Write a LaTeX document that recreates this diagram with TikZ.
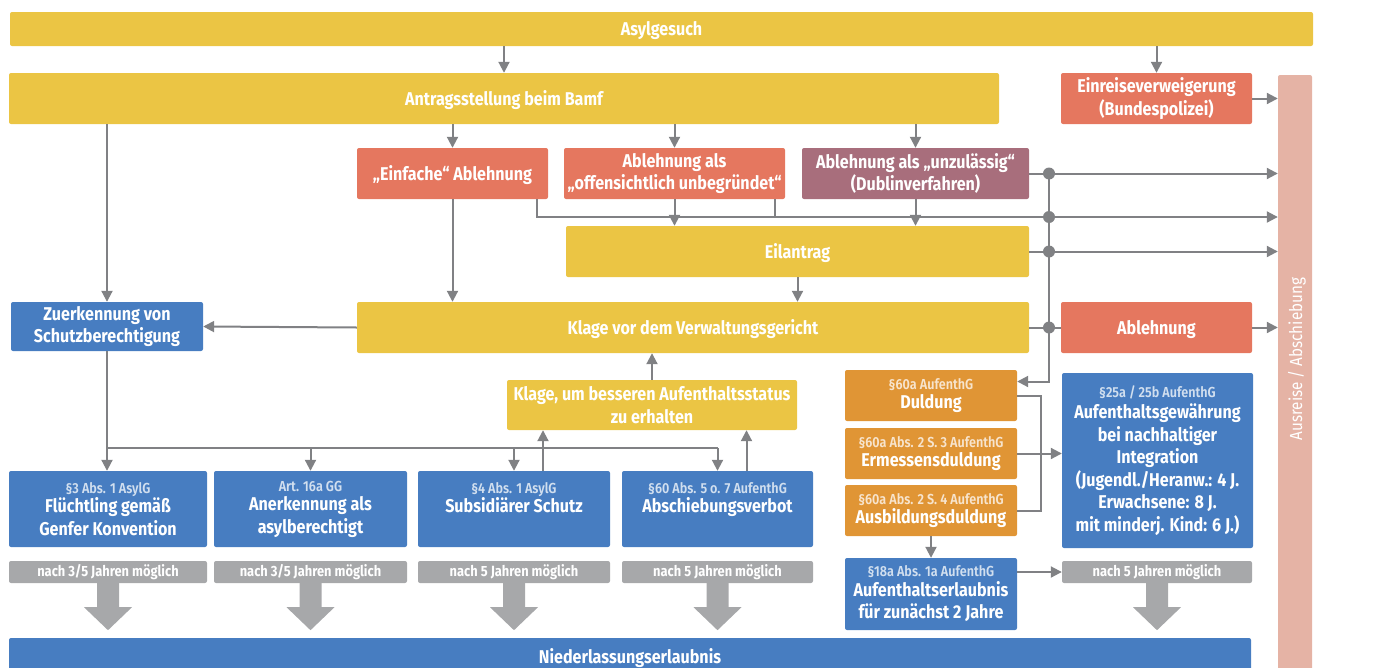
\documentclass[tikz,border=0pt]{standalone}
\usepackage{fontspec}
\setmainfont{Fira Sans}[FakeStretch=0.87]
\newfontfamily\lightfont{Fira Sans Light}[FakeStretch=0.87]
\usetikzlibrary{arrows.meta}

\definecolor{cyel}{HTML}{EBC544}
\definecolor{csal}{HTML}{E5775F}
\definecolor{cmau}{HTML}{A86E7C}
\definecolor{cblu}{HTML}{477DC1}
\definecolor{cora}{HTML}{E09535}
\definecolor{cgry}{HTML}{A7A8AA}
\definecolor{cpin}{HTML}{E5B3A5}
\definecolor{cline}{HTML}{808184}

\newcommand{\lawref}[2][cblu]{{\lightfont\fontsize{14.5}{17}\selectfont\color{white!75!#1}#2}}

\begin{document}
\begin{tikzpicture}[x=1pt, y=-1pt,
  every node/.style={font=\bfseries\fontsize{18.5}{22.5}\selectfont, text=white, align=center, inner sep=0pt},
  sz/.style 2 args={minimum width=#1pt, minimum height=#2pt},
  box/.style={rounded corners=2pt, execute at begin node={\rule{0pt}{18pt}}},
  ybox/.style={box, fill=cyel},
  rbox/.style={box, fill=csal},
  mbox/.style={box, fill=cmau},
  bbox/.style={box, fill=cblu},
  obox/.style={box, fill=cora},
  gbox/.style={rounded corners=2pt, fill=cgry, font=\bfseries\fontsize{14.8}{16}\selectfont},
  line/.style={draw=cline, line width=2pt},
  arr/.style={line, -{Triangle[length=11pt, width=11pt]}},
  dot/.style={circle, fill=cline, minimum size=12pt}]
  \useasboundingbox (0,0) rectangle (1378,667);

  \node[ybox, sz={1303}{34}] (asyl) at (661.5,29) {Asylgesuch};
  \node[ybox, sz={990}{51}] (ant) at (504,98.5) {Antragsstellung beim Bamf};
  \node[rbox, sz={191}{51}] (ein) at (1156.5,98.5) {Einreiseverweigerung\\(Bundespolizei)};
  \node[fill=cpin, rounded corners=2pt, sz={34}{601}] (aus) at (1295,375.5) {};
  \node[rotate=90, font=\mdseries\fontsize{17.5}{20}\selectfont] (auslbl) at (1297,359) {Ausreise / Abschiebung};

  \node[rbox, sz={191}{51}] (einf) at (452.5,173.5) {„Einfache“ Ablehnung};
  \node[rbox, sz={221}{51}] (offen) at (674.5,173.5) {Ablehnung als\\„offensichtlich unbegründet“};
  \node[mbox, sz={227}{51}] (unz) at (915.5,173.5) {Ablehnung als „unzulässig“\\(Dublinverfahren)};
  \node[ybox, sz={463}{51}] (eil) at (797.5,251.5) {Eilantrag};

  \node[bbox, sz={192}{49}] (zuer) at (107,326.5) {Zuerkennung von\\Schutzberechtigung};
  \node[ybox, sz={672}{51}] (klage) at (693,327.5) {Klage vor dem Verwaltungsgericht};
  \node[rbox, sz={191}{51}] (abl) at (1156.5,327.5) {Ablehnung};
  \node[ybox, sz={290}{50}] (kb) at (652,405) {Klage, um besseren Aufenthaltsstatus\\zu erhalten};

  \node[obox, sz={172}{51}] (duld) at (931,395.5) {\lawref[cora]{§60a AufenthG}\\[-3pt]Duldung};
  \node[obox, sz={172}{51}] (erm) at (931,453.5) {\lawref[cora]{§60a Abs. 2 S. 3 AufenthG}\\[-3pt]Ermessensduldung};
  \node[obox, sz={172}{51}] (ausb) at (931,510.5) {\lawref[cora]{§60a Abs. 2 S. 4 AufenthG}\\[-3pt]Ausbildungsduldung};
  \node[bbox, sz={172}{72}] (aufe) at (931,594) {\lawref{§18a Abs. 1a AufenthG}\\[-3pt]Aufenthaltserlaubnis\\für zunächst 2 Jahre};
  \node[bbox, sz={191}{175}] (int) at (1157.5,460.5) {\lawref{§25a / 25b AufenthG}\\[-1pt]Aufenthaltsgewährung\\bei nachhaltiger\\Integration\\(Jugendl./Heranw.: 4 J.\\Erwachsene: 8 J.\\mit minderj. Kind: 6 J.)};

  \node[bbox, sz={198}{76}] (flue) at (108,509) {\lawref{§3 Abs. 1 AsylG}\\[-3pt]Flüchtling gemäß\\Genfer Konvention};
  \node[bbox, sz={193}{76}] (anerk) at (310.5,509) {\lawref{Art. 16a GG}\\[-3pt]Anerkennung als\\asylberechtigt};
  \node[bbox, sz={192}{76}] (subs) at (514,509) {\lawref{§4 Abs. 1 AsylG}\\[-3pt]Subsidiärer Schutz\\~};
  \node[bbox, sz={191}{76}] (abv) at (717.5,509) {\lawref{§60 Abs. 5 o. 7 AufenthG}\\[-3pt]Abschiebungsverbot\\~};

  \node[gbox, sz={198}{22}] (g1) at (108,572) {nach 3/5 Jahren möglich};
  \node[gbox, sz={193}{22}] (g2) at (310.5,572) {nach 3/5 Jahren möglich};
  \node[gbox, sz={192}{22}] (g3) at (514,572) {nach 5 Jahren möglich};
  \node[gbox, sz={191}{22}] (g4) at (717.5,572) {nach 5 Jahren möglich};
  \node[gbox, sz={190}{22}] (g5) at (1157,572) {nach 5 Jahren möglich};
  \node[bbox, sz={1242}{38}] (nied) at (630,657) {Niederlassungserlaubnis};

  \foreach \g in {g1,g2,g3,g4,g5}
    \fill[cgry] (\g.south) ++(-11,0) -- ++(0,24) -- ++(-13,0) -- ++(24,23) -- ++(24,-23) -- ++(-13,0) -- ++(0,-24) -- cycle;

  \draw[arr] (asyl.south -| ant.north) -- (ant.north);
  \draw[arr] (asyl.south -| ein.north) -- (ein.north);
  \draw[arr] (ein.east) -- (ein.east -| aus.west);
  \draw[arr] (ant.south -| einf.north) -- (einf.north);
  \draw[arr] (ant.south -| offen.north) -- (offen.north);
  \draw[arr] (ant.south -| unz.north) -- (unz.north);
  \draw[arr] (ant.south -| zuer.north) -- (zuer.north);

  \coordinate (bus) at (1049,217);
  \coordinate (e1) at ([xshift=-11pt]einf.south east);
  \coordinate (o1) at ([xshift=-10pt]offen.south east);
  \draw[arr] (e1) |- (bus -| aus.west);
  \draw[line] (o1) -- (o1 |- bus);
  \draw[arr] (offen.south) -- (offen.south |- eil.north);
  \draw[arr] (unz.south) -- (unz.south |- eil.north);
  \draw[arr] (unz.east) -- (unz.east -| aus.west);
  \draw[arr] (eil.east) -- (eil.east -| aus.west);
  \draw[line] (klage.east) -- (abl.west);
  \draw[arr] (abl.east) -- (abl.east -| aus.west);
  \coordinate (d0) at ([yshift=14pt]duld.east);
  \draw[arr] (unz.east -| bus) |- (d0);

  \draw[arr] (einf.south) -- (einf.south |- klage.north);
  \draw[arr] (eil.south) -- (eil.south |- klage.north);
  \draw[arr] (kb.north) -- (kb.north |- klage.south);
  \draw[arr] (klage.west) -- (zuer.east);

  \coordinate (fan) at (0,448);
  \draw[arr] (zuer.south) -- (zuer.south |- flue.north);
  \draw[line] (zuer.south |- fan) -- (fan -| abv.north);
  \draw[arr] (fan -| anerk.north) -- (anerk.north);
  \draw[arr] (fan -| subs.north) -- (subs.north);
  \draw[arr] (fan -| abv.north) -- (abv.north);
  \coordinate (s1) at ([xshift=29pt]subs.north);
  \coordinate (v1) at ([xshift=29pt]abv.north);
  \draw[arr] (s1) -- (s1 |- kb.south);
  \draw[arr] (v1) -- (v1 |- kb.south);

  \coordinate (brk) at (1041,0);
  \draw[line] (duld.east) -| (brk |- ausb.east) -- (ausb.east);
  \draw[arr] (erm.east) -- (erm.east -| int.west);
  \draw[arr] (ausb.south) -- (aufe.north);
  \draw[arr] (aufe.east |- g5.west) -- (g5.west);

  \node[dot] (d1) at (unz.east -| bus) {};
  \node[dot] (d2) at (bus) {};
  \node[dot] (d3) at (eil.east -| bus) {};
  \node[dot] (d4) at (klage.east -| bus) {};
\end{tikzpicture}
\end{document}
